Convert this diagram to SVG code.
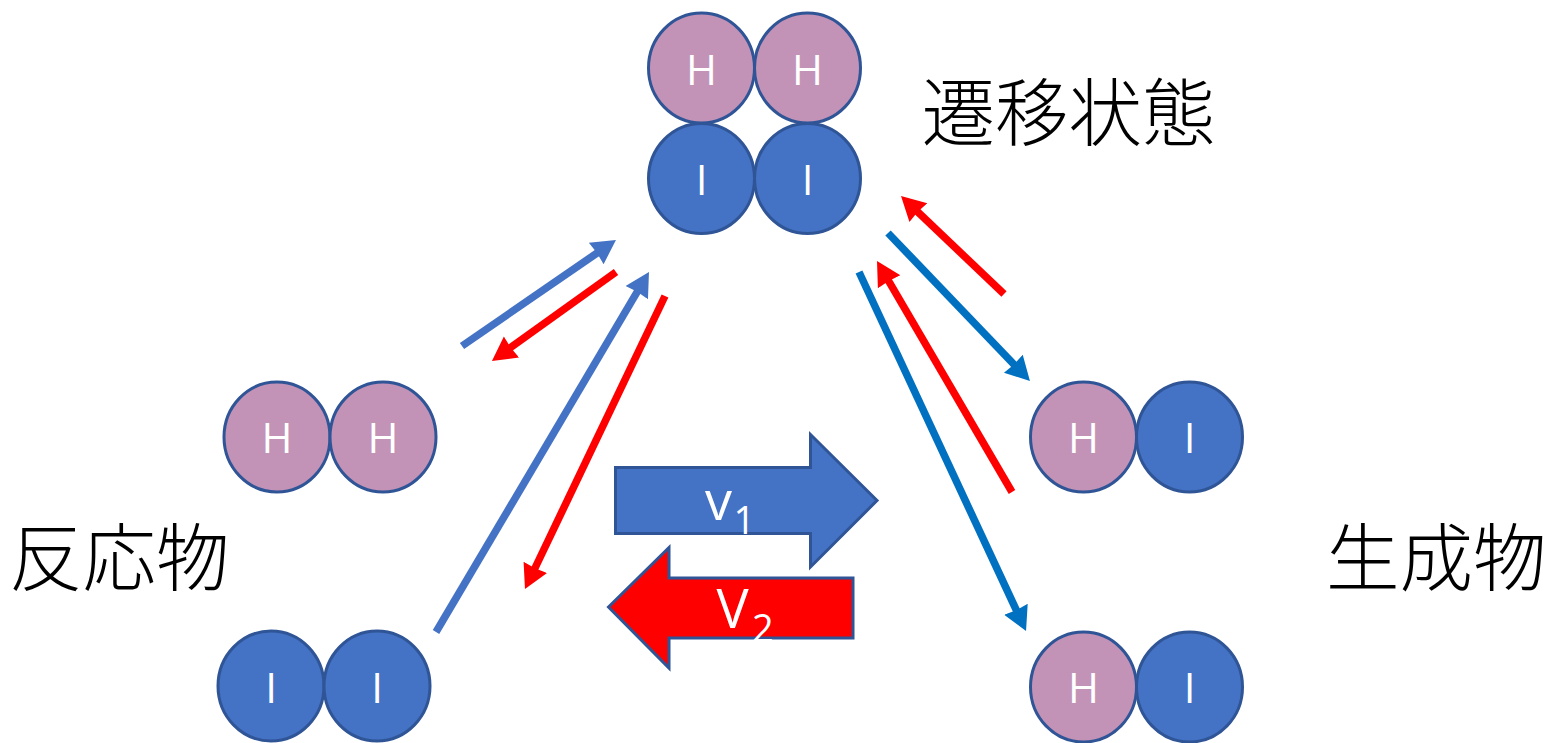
<svg xmlns="http://www.w3.org/2000/svg" width="1548" height="743" viewBox="0 0 1548 743">
<style>
.h{fill:#c292b7;stroke:#2f5597;stroke-width:3}
.i{fill:#4472c4;stroke:#2f5597;stroke-width:3}
.a{font-family:"Open Sans","Noto Sans",sans-serif;font-size:42px;fill:#fff;text-anchor:middle}
.j{font-family:"Noto Sans CJK JP",sans-serif;font-size:73.5px;font-weight:300;fill:#000}
.c{fill:none;stroke-width:7.5}
.bl{stroke:#4472c4}.rd{stroke:#f00}.db{stroke:#0070c0}
.v{font-family:"Open Sans","Noto Sans",sans-serif;font-size:54px;fill:#fff}
.s{font-family:"Open Sans","Noto Sans",sans-serif;font-size:38px;fill:#fff}
</style>
<defs>
<marker id="mb" markerUnits="userSpaceOnUse" markerWidth="32" markerHeight="32" refX="4" refY="15" orient="auto"><path d="M0,2L24,15L0,28L1,15Z" fill="#4472c4"/></marker>
<marker id="mr" markerUnits="userSpaceOnUse" markerWidth="32" markerHeight="32" refX="4" refY="15" orient="auto"><path d="M0,2L24,15L0,28L1,15Z" fill="#f00"/></marker>
<marker id="md" markerUnits="userSpaceOnUse" markerWidth="32" markerHeight="32" refX="4" refY="15" orient="auto"><path d="M0,2L24,15L0,28L1,15Z" fill="#0070c0"/></marker>
</defs>
<g id="connectors">
<line class="c bl" x1="462" y1="346" x2="599.5" y2="251.3" marker-end="url(#mb)"/>
<line class="c rd" x1="616" y1="272" x2="508.2" y2="349.3" marker-end="url(#mr)"/>
<line class="c bl" x1="436" y1="632" x2="638.8" y2="289.2" marker-end="url(#mb)"/>
<line class="c rd" x1="665" y1="296" x2="533.6" y2="571" marker-end="url(#mr)"/>
<line class="c rd" x1="1004" y1="294" x2="915.5" y2="209.8" marker-end="url(#mr)"/>
<line class="c db" x1="888" y1="233" x2="1016.1" y2="366.6" marker-end="url(#md)"/>
<line class="c rd" x1="1012" y1="492" x2="887.1" y2="278.3" marker-end="url(#mr)"/>
<line class="c db" x1="859" y1="272" x2="1017.6" y2="612.9" marker-end="url(#md)"/>
</g>
<g id="ts-h1"><ellipse class="h" cx="701.500" cy="68" rx="53" ry="55"/><text class="a" x="701.500" y="85">H</text></g>
<g id="ts-h2"><ellipse class="h" cx="807.500" cy="68" rx="53" ry="55"/><text class="a" x="807.500" y="85">H</text></g>
<g id="ts-i1"><ellipse class="i" cx="701.500" cy="178.500" rx="53" ry="55"/><text class="a" x="701.500" y="195">I</text></g>
<g id="ts-i2"><ellipse class="i" cx="807.500" cy="178.500" rx="53" ry="55"/><text class="a" x="807.500" y="195">I</text></g>
<g id="re-h1"><ellipse class="h" cx="277" cy="437" rx="53" ry="55"/><text class="a" x="277" y="453">H</text></g>
<g id="re-h2"><ellipse class="h" cx="383" cy="437" rx="53" ry="55"/><text class="a" x="383" y="453">H</text></g>
<g id="re-i1"><ellipse class="i" cx="271" cy="686" rx="53" ry="55"/><text class="a" x="271" y="703">I</text></g>
<g id="re-i2"><ellipse class="i" cx="377" cy="686" rx="53" ry="55"/><text class="a" x="377" y="703">I</text></g>
<g id="pr1-h"><ellipse class="h" cx="1083.500" cy="437" rx="53" ry="55"/><text class="a" x="1083.500" y="453">H</text></g>
<g id="pr1-i"><ellipse class="i" cx="1189.500" cy="437" rx="53" ry="55"/><text class="a" x="1189.500" y="453">I</text></g>
<g id="pr2-h"><ellipse class="h" cx="1083.500" cy="687" rx="53" ry="55"/><text class="a" x="1083.500" y="703">H</text></g>
<g id="pr2-i"><ellipse class="i" cx="1189.500" cy="687" rx="53" ry="55"/><text class="a" x="1189.500" y="703">I</text></g>
<g id="v1"><polygon class="i" points="615.500,467.500 810.500,467.500 810.500,434.500 877,500.500 810.500,567 810.500,533.500 615.500,533.500"/><text class="v" x="705" y="520">v</text><text class="s" x="733.500" y="534">1</text></g>
<g id="v2"><polygon points="608.500,607 669,547.500 669,578 853,578 853,638 669,638 669,668" fill="#f00" stroke="#2f5597" stroke-width="3"/><text class="v" x="716.500" y="628">V</text><text class="s" x="752" y="642">2</text></g>
<g id="label-ts"><text class="j" x="921.500" y="140">遷移状態</text></g>
<g id="label-re"><text class="j" x="9" y="585">反応物</text></g>
<g id="label-pr"><text class="j" x="1326" y="585">生成物</text></g>
</svg>
